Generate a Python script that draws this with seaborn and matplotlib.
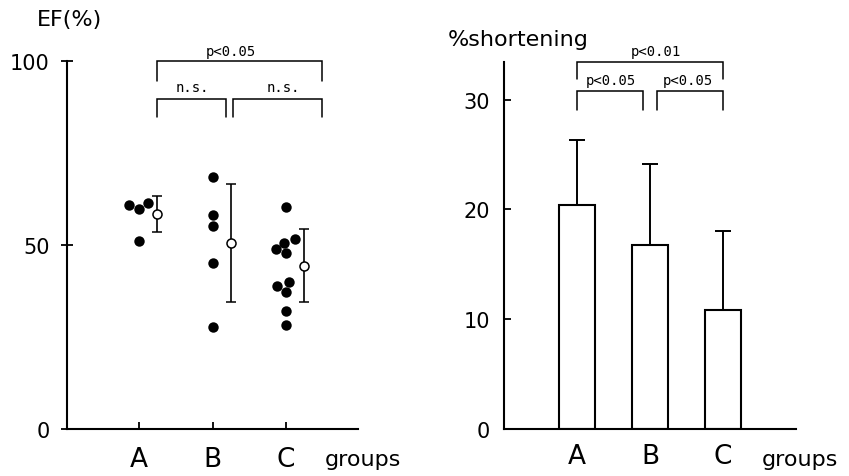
import numpy as np
import pandas as pd
import matplotlib
matplotlib.use("Agg")
import matplotlib.pyplot as plt
import seaborn as sns

# ---- data ----
groups = ["A", "B", "C"]

# EF (%) of individual cases
ef_a = [61.0, 61.4, 59.8, 51.0]
ef_b = [68.4, 58.2, 55.1, 45.0, 27.6]
ef_c = [60.4, 51.5, 50.6, 48.9, 47.8, 40.0, 38.8, 37.3, 32.0, 28.3]

# mean +- SD of EF
ef_mean = [58.4, 50.5, 44.4]
ef_sd = [4.8, 16.0, 10.0]

# %shortening mean and SD (upper bar only)
fs_mean = [20.4, 16.8, 10.8]
fs_sd = [5.9, 7.3, 7.2]

ef_ticks = [0, 50, 100]
fs_ticks = [0, 10, 20, 30]

sns.set_theme(style="ticks", rc={
    'text.color': 'black', 'axes.labelcolor': 'black',
    'axes.edgecolor': 'black', 'xtick.color': 'black', 'ytick.color': 'black',
})
plt.rcParams['font.family'] = ['DejaVu Sans']
plt.rcParams['axes.linewidth'] = 1.5

MONO = ['DejaVu Sans Mono']


def bracket(ax, x0, x1, y, drop, label=None, ty=None, tx=None):
    ax.plot([x0, x0, x1, x1], [y - drop, y, y, y - drop], color='black',
            lw=1.1, clip_on=False, solid_joinstyle='miter')
    if label:
        ax.text((x0 + x1) / 2 if tx is None else tx, ty, label, ha='center',
                va='center', fontsize=10, family=MONO, clip_on=False)


fig = plt.figure(figsize=(8.49, 4.77), dpi=100)
fig.patch.set_facecolor('white')
ax1 = fig.add_axes([67 / 849, 47 / 477, 291 / 849, 368 / 477])
ax2 = fig.add_axes([504 / 849, 47 / 477, 292 / 849, 366.7 / 477])

# ---- left: EF scatter ----
df = pd.DataFrame({
    'group': ['A'] * len(ef_a) + ['B'] * len(ef_b) + ['C'] * len(ef_c),
    'ef': ef_a + ef_b + ef_c,
})
sns.swarmplot(data=df, x='group', y='ef', order=groups, color='black',
              size=7.5, linewidth=0, ax=ax1, zorder=3)
MEAN_OFFSET = 0.25
xm = np.arange(len(groups)) + MEAN_OFFSET
ax1.errorbar(xm, ef_mean, yerr=ef_sd, fmt='o', mfc='white', mec='black',
             mew=1.1, ms=6.5, ecolor='black', elinewidth=1.2, capsize=3.5,
             capthick=1.2, zorder=4)
ax1.set_xlim(-0.98, 2.98)
ax1.set_ylim(0, 100)
ax1.set_yticks(ef_ticks)
ax1.set_xlabel('')
ax1.set_ylabel('')
ax1.tick_params(axis='y', direction='inout', length=9, width=1.3,
                labelsize=15, pad=8)
ax1.tick_params(axis='x', direction='in', length=5, width=1.3,
                labelsize=19, pad=12)
sns.despine(ax=ax1)

bracket(ax1, 0.245, 2.49, 100, 5.4, 'p<0.05', 102.7, 1.25)
bracket(ax1, 0.245, 1.19, 89.7, 4.9, 'n.s.', 92.9, 0.73)
bracket(ax1, 1.28, 2.49, 89.7, 4.9, 'n.s.', 92.9, 1.96)

# ---- right: %shortening bars ----
bars = pd.DataFrame({'group': groups, 'fs': fs_mean})
sns.barplot(data=bars, x='group', y='fs', order=groups, color='white',
            edgecolor='black', linewidth=1.5, width=0.49, ax=ax2, zorder=2)
xb = np.arange(len(groups))
ax2.errorbar(xb, fs_mean, yerr=[[0] * len(groups), fs_sd], fmt='none',
             ecolor='black', elinewidth=1.4, capsize=5.5, capthick=1.4,
             zorder=1)
ax2.set_xlim(-1.0, 3.0)
ax2.set_ylim(0, 33.4)
ax2.set_yticks(fs_ticks)
ax2.set_xlabel('')
ax2.set_ylabel('')
ax2.tick_params(axis='y', direction='in', length=5, width=1.3,
                labelsize=15, pad=10)
ax2.tick_params(axis='x', length=0, labelsize=19, pad=10)
sns.despine(ax=ax2)

bracket(ax2, 0.0, 2.0, 33.4, 1.5, 'p<0.01', 34.45, 1.08)
bracket(ax2, 0.0, 0.9, 30.75, 1.65, 'p<0.05', 31.8, 0.47)
bracket(ax2, 1.1, 2.0, 30.75, 1.65, 'p<0.05', 31.8, 1.52)

# ---- axis titles ----
fig.text(37 / 849, 1 - 20 / 477, 'EF(%)', fontsize=16, va='center', ha='left')
fig.text(448 / 849, 1 - 40 / 477, '%shortening', fontsize=16, va='center',
         ha='left')
fig.text(325 / 849, 1 - 466 / 477, 'groups', fontsize=16, va='baseline',
         ha='left')
fig.text(762 / 849, 1 - 466 / 477, 'groups', fontsize=16, va='baseline',
         ha='left')

fig.savefig('out.png', dpi=100)
